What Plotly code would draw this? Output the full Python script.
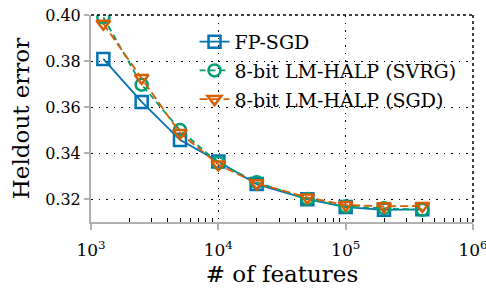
import plotly.graph_objects as go

features = [1250, 2500, 5000, 10000, 20000, 50000, 100000, 200000, 400000]
fp_sgd = [0.3809, 0.3622, 0.3457, 0.3363, 0.3265, 0.3199, 0.3165, 0.3153, 0.3155]
halp_svrg = [0.3990, 0.3697, 0.3500, 0.3357, 0.3273, 0.3200, 0.3167, 0.3160, 0.3153]
halp_sgd = [0.3962, 0.3726, 0.3487, 0.3350, 0.3268, 0.3207, 0.3174, 0.3168, 0.3170]

series_names = ["FP-SGD", "8-bit LM-HALP (SVRG)", "8-bit LM-HALP (SGD)"]
colors = ["#0173B2", "#029E73", "#D55E00"]
symbols = ["square-open", "circle-open", "triangle-down-open"]
dashes = ["solid", "6px,4px", "8px,4px"]

y_ticks = [0.32, 0.34, 0.36, 0.38, 0.40]
x_ticks = [1e3, 1e4, 1e5, 1e6]
x_ticktext = ["10<sup>3</sup>", "10<sup>4</sup>", "10<sup>5</sup>", "10<sup>6</sup>"]
x_minor = [m * 10 ** e for e in (3, 4, 5) for m in range(2, 10)]

FONT = "DejaVu Serif, serif"
GRID_DASH = "1.5px,6px"

fig = go.Figure()
for name, ys, c, s, d in zip(series_names, [fp_sgd, halp_svrg, halp_sgd], colors, symbols, dashes):
    fig.add_trace(go.Scatter(
        x=features, y=ys, name=name, mode="lines+markers",
        line=dict(color=c, width=1.8, dash=d),
        marker=dict(symbol=s, size=12, color=c, line=dict(color=c, width=2.5)),
        legendgroup=name,
    ))

# top and right frame edges drawn as dotted lines (plotly skips grid lines at the edges)
fig.add_shape(type="line", xref="x domain", yref="y domain", x0=0, x1=1, y0=1, y1=1,
              line=dict(color="black", width=1.5, dash="dot"), layer="above")
fig.add_shape(type="line", xref="x domain", yref="y domain", x0=1, x1=1, y0=0, y1=1,
              line=dict(color="black", width=1.5, dash="dot"), layer="above")

fig.update_layout(
    width=486, height=290,
    margin=dict(l=91, r=13, t=15, b=68),
    paper_bgcolor="white", plot_bgcolor="white",
    font=dict(family=FONT, size=16, color="black"),
    showlegend=True,
    legend=dict(
        x=0.271, y=0.962, xanchor="left", yanchor="top",
        bgcolor="rgba(255,255,255,0)", borderwidth=0,
        font=dict(family=FONT, size=19, color="black"),
        tracegroupgap=1,
    ),
    xaxis=dict(
        type="log", range=[3, 6], automargin=False,
        tickmode="array", tickvals=x_ticks, ticktext=x_ticktext,
        tickfont=dict(family=FONT, size=17),
        ticks="outside", ticklen=6, tickcolor="#b0b0b0", tickwidth=1.5,
        ticklabelstandoff=6, ticklabeloverflow="allow",
        showline=True, linecolor="#b0b0b0", linewidth=2,
        showgrid=True, gridcolor="black", gridwidth=1, griddash=GRID_DASH,
        zeroline=False,
        minor=dict(tickmode="array", tickvals=x_minor, ticks="inside", ticklen=4,
                   tickcolor="black", tickwidth=1, showgrid=False),
        title=dict(text="# of features", font=dict(family=FONT, size=23), standoff=6),
    ),
    yaxis=dict(
        range=[0.31, 0.40], automargin=False,
        tickmode="array", tickvals=y_ticks, tickformat=".2f",
        tickfont=dict(family=FONT, size=16),
        ticks="outside", ticklen=5, tickcolor="#b0b0b0", tickwidth=1.5,
        ticklabeloverflow="allow",
        showline=True, linecolor="#b0b0b0", linewidth=2,
        showgrid=True, gridcolor="black", gridwidth=1, griddash=GRID_DASH,
        zeroline=False,
        title=dict(text="Heldout error", font=dict(family=FONT, size=23), standoff=9),
    ),
)

fig.write_html("out.html", config={"displayModeBar": False},
               post_script="document.body.style.margin='0';")
